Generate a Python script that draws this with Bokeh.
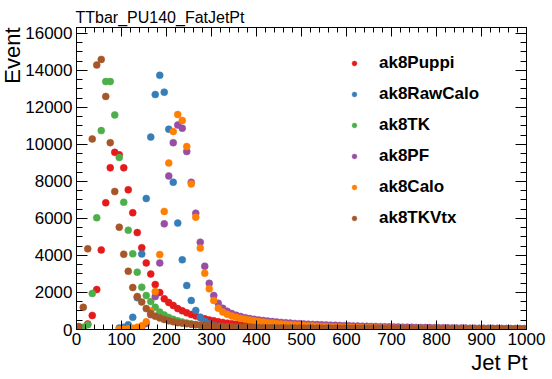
from bokeh.plotting import figure
from bokeh.models import (LinearAxis, SingleIntervalTicker, Range1d, Title,
                          Legend, LegendItem, ColumnDataSource)
from bokeh.embed import file_html
from bokeh.resources import INLINE

# ---------------- data (bin width 10, centres 5..995) ----------------
bin_centers = list(range(5, 1000, 10))

ak8Puppi = [
    30, 90, 300, 760, 2160, 4300, 6850, 8740, 9580, 9440,
    8740, 7550, 6310, 5240, 4420, 3600, 3000, 2430, 2000, 1660,
    1460, 1300, 1130, 1010, 900, 810, 730, 650, 580, 520,
    470, 420, 380, 340, 310, 280, 255, 230, 210, 190,
    175, 160, 148, 136, 126, 116, 108, 100, 92, 86,
    80, 75, 70, 66, 62, 58, 55, 52, 49, 46,
    44, 42, 40, 38, 36, 34, 33, 31, 30, 29,
    28, 27, 26, 25, 24, 23, 22, 22, 21, 20,
    20, 19, 18, 18, 17, 17, 16, 16, 15, 15,
    14, 14, 14, 13, 13, 13, 12, 12, 12, 11]

ak8RawCalo = [
    0, 0, 0, 0, 0, 0, 0, 0, 0, 80,
    120, 250, 660, 1720, 4080, 7080, 10400, 12700, 13740, 12830,
    10830, 7960, 5750, 3770, 2380, 1570, 1030, 660, 450, 310,
    220, 160, 120, 95, 75, 60, 50, 42, 36, 31,
    28, 26, 24, 22, 21, 20, 19, 18, 17, 16,
    15, 15, 14, 14, 13, 13, 12, 12, 11, 11,
    10, 10, 10, 9, 9, 9, 8, 8, 8, 8,
    7, 7, 7, 7, 6, 6, 6, 6, 6, 6,
    5, 5, 5, 5, 5, 5, 5, 4, 4, 4,
    4, 4, 4, 4, 4, 3, 3, 3, 3, 3]

ak8TK = [
    30, 120, 260, 1950, 6040, 10750, 13400, 13400, 11600, 9300,
    6880, 5370, 4090, 3100, 2290, 1840, 1510, 1200, 940, 780,
    650, 550, 470, 400, 345, 300, 260, 225, 195, 170,
    150, 132, 117, 104, 93, 83, 75, 68, 62, 56,
    51, 47, 43, 40, 37, 34, 32, 30, 28, 26,
    25, 23, 22, 21, 20, 19, 18, 17, 16, 16,
    15, 14, 14, 13, 13, 12, 12, 11, 11, 11,
    10, 10, 10, 9, 9, 9, 9, 8, 8, 8,
    8, 8, 7, 7, 7, 7, 7, 7, 6, 6,
    6, 6, 6, 6, 6, 5, 5, 5, 5, 30]

ak8PF = [
    0, 0, 0, 0, 0, 0, 0, 0, 0, 0,
    0, 0, 20, 60, 130, 320, 800, 1780, 3600, 5710,
    8300, 10100, 11060, 10880, 9620, 7960, 6290, 4720, 3420, 2500,
    1840, 1420, 1150, 980, 860, 770, 700, 640, 590, 550,
    515, 485, 455, 430, 405, 385, 365, 345, 330, 315,
    300, 288, 276, 265, 254, 244, 234, 225, 216, 208,
    200, 192, 185, 178, 171, 165, 159, 153, 147, 142,
    137, 132, 127, 122, 118, 114, 110, 106, 102, 98,
    95, 92, 89, 86, 83, 80, 77, 74, 72, 70,
    68, 66, 64, 62, 60, 58, 56, 54, 52, 50]

ak8Calo = [
    0, 0, 0, 0, 0, 0, 0, 0, 0, 10,
    20, 40, 70, 120, 200, 420, 1000, 2050, 4050, 6380,
    9000, 10700, 11620, 11300, 9890, 7870, 6070, 4400, 3040, 2200,
    1570, 1150, 950, 820, 730, 660, 600, 550, 510, 475,
    430, 400, 370, 345, 320, 300, 280, 262, 245, 230,
    215, 202, 190, 178, 168, 158, 149, 140, 132, 125,
    118, 111, 105, 100, 95, 90, 85, 81, 77, 73,
    70, 66, 63, 60, 57, 55, 52, 50, 48, 46,
    44, 42, 40, 38, 37, 35, 34, 32, 31, 30,
    29, 28, 27, 26, 25, 24, 23, 22, 21, 20]

ak8TKVtx = [
    160, 1200, 4360, 10300, 14300, 14600, 12600, 10100, 7460, 5530,
    4070, 3150, 2270, 1780, 1480, 1130, 860, 720, 620, 540,
    470, 420, 370, 340, 310, 285, 260, 240, 222, 205,
    190, 176, 163, 152, 142, 133, 125, 118, 112, 106,
    101, 97, 93, 90, 87, 84, 82, 80, 78, 76,
    74, 73, 71, 70, 68, 67, 66, 65, 63, 62,
    61, 60, 59, 58, 57, 56, 55, 54, 53, 52,
    51, 50, 49, 48, 48, 47, 46, 45, 44, 44,
    43, 42, 41, 41, 40, 39, 39, 38, 37, 37,
    36, 35, 35, 34, 33, 33, 32, 31, 31, 30]

series_names = ["ak8Puppi", "ak8RawCalo", "ak8TK", "ak8PF", "ak8Calo", "ak8TKVtx"]
series_values = [ak8Puppi, ak8RawCalo, ak8TK, ak8PF, ak8Calo, ak8TKVtx]
series_colors = ["#e41a1c", "#377eb8", "#4daf4a", "#984ea3", "#ff7f00", "#a65628"]

x_ticks_major = 100
y_ticks_major = 2000

title_text = "TTbar_PU140_FatJetPt"
x_title = "Jet Pt"
y_title = "Event"

FONT = "Liberation Sans"

# ---------------- figure ----------------
W, H = 552, 379
p = figure(width=W, height=H, output_backend="svg", toolbar_location=None,
           title=None, x_range=Range1d(0, 1000), y_range=Range1d(0, 16324),
           min_border_left=76, min_border_right=26, min_border_top=27,
           min_border_bottom=50, x_axis_type=None, y_axis_type=None)
p.background_fill_color = "white"
p.border_fill_color = "white"
p.outline_line_color = "black"
p.grid.visible = False


def style_axis(ax, major_in, minor_in, show_labels):
    ax.axis_line_color = "black"
    ax.axis_line_width = 1
    ax.major_tick_in = major_in
    ax.major_tick_out = 0
    ax.minor_tick_in = minor_in
    ax.minor_tick_out = 0
    ax.major_tick_line_color = "black"
    ax.minor_tick_line_color = "black"
    if show_labels:
        ax.major_label_text_font = FONT
        ax.major_label_text_font_size = "17px"
        ax.major_label_text_color = "black"
    else:
        ax.major_label_text_font_size = "1px"
        ax.major_label_text_color = None
        ax.major_label_standoff = 0


xt = SingleIntervalTicker(interval=x_ticks_major, num_minor_ticks=5)
yt = SingleIntervalTicker(interval=y_ticks_major, num_minor_ticks=4)

xb = LinearAxis(ticker=xt)
style_axis(xb, 9, 5, True)
xb.major_label_standoff = 3
p.add_layout(xb, "below")

xa = LinearAxis(ticker=xt)
style_axis(xa, 9, 5, False)
p.add_layout(xa, "above")

yl = LinearAxis(ticker=yt)
style_axis(yl, 11, 6, True)
yl.major_label_standoff = 4
p.add_layout(yl, "left")

yr = LinearAxis(ticker=yt)
style_axis(yr, 11, 6, False)
p.add_layout(yr, "right")

# ---------------- titles ----------------
p.add_layout(Title(text=title_text, align="left", offset=-1, standoff=4,
                   text_font=FONT, text_font_size="16px",
                   text_font_style="normal", text_color="black"), "above")
p.add_layout(Title(text=x_title, align="right", offset=-1, standoff=0,
                   text_font=FONT, text_font_size="22px",
                   text_font_style="normal", text_color="black"), "below")
p.add_layout(Title(text=y_title, align="right", offset=0, standoff=-5,
                   text_font=FONT, text_font_size="22px",
                   text_font_style="normal", text_color="black"), "left")

# ---------------- markers ----------------
items = []
for name, vals, col in zip(series_names, series_values, series_colors):
    xs = [c for c, v in zip(bin_centers, vals) if v > 0]
    ys = [v for v in vals if v > 0]
    src = ColumnDataSource(dict(x=xs, y=ys))
    r = p.scatter("x", "y", source=src, size=7, marker="circle",
                  fill_color=col, line_color=col, line_width=0.5)
    items.append(LegendItem(label=name, renderers=[r]))

legend = Legend(items=items, location=(272, 101))
legend.border_line_color = None
legend.background_fill_alpha = 0
legend.glyph_width = 12
legend.glyph_height = 12
legend.label_height = 20
legend.spacing = 11
legend.padding = 0
legend.margin = 0
legend.label_standoff = 19
legend.label_text_font = FONT
legend.label_text_font_size = "17px"
legend.label_text_font_style = "bold"
legend.label_text_color = "black"
p.add_layout(legend, "center")

open("out.html", "w").write(file_html(p, INLINE))
